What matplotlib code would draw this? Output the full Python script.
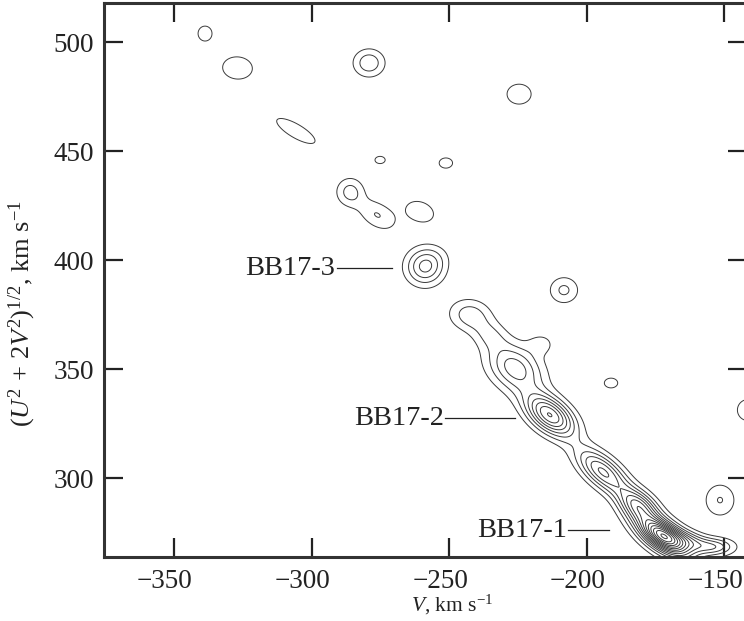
import numpy as np
import matplotlib
matplotlib.use("Agg")
import matplotlib.pyplot as plt
from matplotlib.transforms import ScaledTranslation

plt.rcParams['font.family'] = ['Liberation Serif', 'DejaVu Serif']
plt.rcParams['mathtext.fontset'] = 'custom'
plt.rcParams['mathtext.rm'] = 'Liberation Serif'
plt.rcParams['mathtext.it'] = 'Liberation Serif:italic'

# clumps (V, (U^2+2V^2)^1/2 in km/s)
# centre V, centre W, sigma along axis, sigma across, axis angle (deg), peak height
clump_v = [-242.4, -235.2, -216.5, -226.1, -213.4, -194.1, -181.4, -172.3, -172.3, -162.0, -153.0,
           -338.7, -326.9, -279.1, -224.6, -305.7, -275.1, -251.2, -286.0, -276.1,
           -260.6, -258.8, -254.5, -208.3, -191.2, -141.4, -151.6]
clump_w = [374.8, 365.6, 361.5, 350.5, 328.9, 302.8, 287.6, 273.4, 273.4, 271.0, 268.5,
           503.9, 488.1, 490.4, 476.1, 459.2, 445.9, 444.5, 431.3, 420.6,
           422.2, 396.9, 402.0, 386.2, 343.6, 331.2, 289.9]
clump_sa = [5.5, 5.0, 3.5, 8.5, 8.0, 9.0, 6.0, 9.0, 5.5, 6.0, 5.0,
            2.6, 5.6, 4.05, 4.5, 8.8, 1.9, 2.5, 3.6, 6.0,
            5.5, 4.8, 4.0, 3.9, 2.5, 4.0, 4.2]
clump_sb = [5.0, 4.0, 3.5, 6.0, 4.5, 4.0, 3.8, 4.2, 2.8, 3.0, 2.8,
            3.5, 5.2, 4.5, 4.7, 3.0, 1.7, 2.4, 4.6, 3.8,
            4.3, 5.8, 4.0, 4.5, 2.3, 5.0, 5.7]
clump_ang = [-30, -55, 0, -55, -50, -50, -50, -45, -45, -20, 0,
             0, -20, 0, 0, -38, 0, 0, 0, -47,
             -40, 0, 0, 0, 0, 0, 0]
clump_amp = [2.6, 1.8, 1.35, 4.6, 8.0, 6.2, 6.0, 10.0, 3.5, 3.0, 3.0,
             1.6, 1.6, 2.8, 1.6, 1.6, 1.6, 1.6, 2.4, 2.03,
             1.6, 4.3, 0.5, 2.23, 1.6, 1.6, 2.05]

xticks = [-350, -300, -250, -200, -150]
yticks = [300, 350, 400, 450, 500]

labels = ['BB17-1', 'BB17-2', 'BB17-3']
label_v0 = [-206.8, -251.5, -290.8]
label_v1 = [-191.9, -226.1, -270.8]
label_w = [276.1, 327.5, 396.3]

# density map from the clumps
vg = np.linspace(-380, -135, 981)
wg = np.linspace(255, 525, 1081)
VV, WW = np.meshgrid(vg, wg)
dens = np.zeros_like(VV)
for v0, w0, sa, sb, ang, amp in zip(clump_v, clump_w, clump_sa, clump_sb, clump_ang, clump_amp):
    t = np.deg2rad(ang)
    a = (VV - v0) * np.cos(t) + (WW - w0) * np.sin(t)
    b = -(VV - v0) * np.sin(t) + (WW - w0) * np.cos(t)
    dens += amp * np.exp(-0.5 * (a**2 / sa**2 + b**2 / sb**2))

fig = plt.figure(figsize=(7.44, 6.21), dpi=100)
ax = fig.add_axes([104/744, 64/621, 643/744, 554/621])

ax.contour(VV, WW, dens, levels=np.arange(1, 16), colors='#3a3a3a', linewidths=0.7)

for lab, v0, v1, w in zip(labels, label_v0, label_v1, label_w):
    ax.plot([v0, v1], [w, w], color='#222222', lw=0.9)
    ax.text(v0 - 0.5, w, lab, ha='right', va='center', fontsize=20.5, color='#222222')

ax.set_xlim(-375.4, -141.8)
ax.set_ylim(263.8, 517.9)
ax.set_xticks(xticks)
ax.set_yticks(yticks)
ax.tick_params(direction='in', length=14, width=1.6, top=True, right=True,
               labelsize=19.5, colors='#222222', pad=7)
ax.tick_params(axis='x', pad=9)
# numbers centred on the tick, minus sign hanging to the left
for tl in ax.get_xticklabels():
    tl.set_transform(tl.get_transform() + ScaledTranslation(-0.09, 0, fig.dpi_scale_trans))
for sp in ax.spines.values():
    sp.set_linewidth(2.2)
    sp.set_color('#333333')

ax.set_xlabel(r'$V$, km s$^{-1}$', fontsize=15.5, color='#222222', va='top')
ax.xaxis.set_label_coords(0.541, -0.064)
ax.set_ylabel(r'$(U^2\,+\,2V^2)^{1/2}$, km s$^{-1}$', fontsize=19, color='#222222')
ax.yaxis.set_label_coords(-0.103, 0.44)

fig.savefig('out.png', dpi=100)
